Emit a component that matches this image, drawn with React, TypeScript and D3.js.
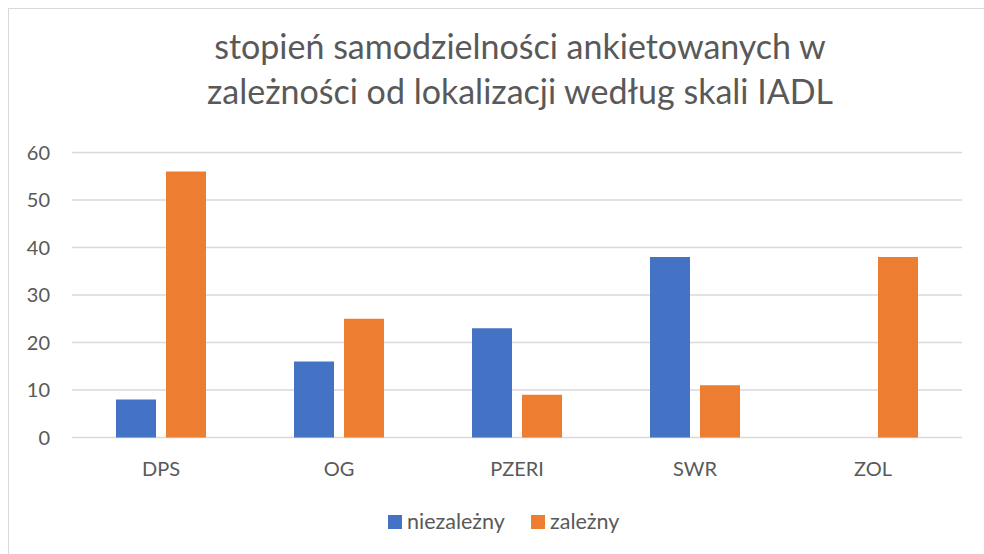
import { useEffect, useRef } from "react";
import * as d3 from "d3";

const categories = ["DPS", "OG", "PZERI", "SWR", "ZOL"];
const seriesNames = ["niezależny", "zależny"];
const niezalezny = [8, 16, 23, 38, 0];
const zalezny = [56, 25, 9, 11, 38];
const yTicks = [0, 10, 20, 30, 40, 50, 60];
const titleLines = [
  "stopień samodzielności ankietowanych w",
  "zależności od lokalizacji według skali IADL",
];

const colors = ["#4472C4", "#ED7D31"];
const textColor = "#595959";
const gridColor = "#D9D9D9";
const font = "Lato, 'Open Sans', sans-serif";

export default function App() {
  const svgRef = useRef<SVGSVGElement>(null);

  useEffect(() => {
    if (!svgRef.current) return;
    const svg = d3.select(svgRef.current);
    svg.selectAll("*").remove();

    const width = 976;
    const height = 546;
    svg.attr("width", width).attr("height", height);

    // work in page coordinates (svg sits at 8,8)
    const g = svg.append("g").attr("transform", "translate(-8,-8)");

    // chart frame (right and bottom edges fall outside the window)
    g.append("rect")
      .attr("x", 8.5)
      .attr("y", 8.5)
      .attr("width", 1100)
      .attr("height", 1100)
      .attr("fill", "#FFFFFF")
      .attr("stroke", gridColor)
      .attr("stroke-width", 1);

    const plot = { left: 72, right: 962, top: 152.5, bottom: 437.5 };

    const x0 = d3
      .scaleBand()
      .domain(categories)
      .range([plot.left, plot.right]);

    const barW = 40;
    const gap = 10;
    const x1 = d3
      .scaleOrdinal<string, number>()
      .domain(seriesNames)
      .range([-(barW + gap / 2), gap / 2]);

    const y = d3.scaleLinear().domain([0, 60]).range([plot.bottom, plot.top]);

    // Grid lines
    g.append("g")
      .selectAll("line")
      .data(yTicks)
      .enter()
      .append("line")
      .attr("x1", plot.left)
      .attr("x2", plot.right)
      .attr("y1", (d) => y(d))
      .attr("y2", (d) => y(d))
      .attr("stroke", gridColor)
      .attr("stroke-width", 1.3);

    // Y tick labels
    g.append("g")
      .selectAll("text")
      .data(yTicks)
      .enter()
      .append("text")
      .attr("x", 50)
      .attr("y", (d) => y(d))
      .attr("dy", "0.35em")
      .attr("text-anchor", "end")
      .attr("fill", textColor)
      .attr("font-family", font)
      .attr("font-size", "20px")
      .text((d) => d);

    // Bars
    const series = [niezalezny, zalezny];
    series.forEach((values, si) => {
      g.append("g")
        .selectAll("rect")
        .data(categories)
        .enter()
        .append("rect")
        .attr(
          "x",
          (d) => x0(d)! + x0.bandwidth() / 2 + x1(seriesNames[si])
        )
        .attr("y", (d, i) => y(values[i]))
        .attr("width", barW)
        .attr("height", (d, i) => y(0) - y(values[i]))
        .attr("fill", colors[si]);
    });

    // X labels
    g.append("g")
      .selectAll("text")
      .data(categories)
      .enter()
      .append("text")
      .attr("x", (d) => x0(d)! + x0.bandwidth() / 2)
      .attr("y", 476)
      .attr("text-anchor", "middle")
      .attr("fill", textColor)
      .attr("font-family", font)
      .attr("font-size", "20px")
      .text((d) => d);

    // Title
    g.append("g")
      .selectAll("text")
      .data(titleLines)
      .enter()
      .append("text")
      .attr("x", 520)
      .attr("y", (d, i) => 59 + i * 45)
      .attr("text-anchor", "middle")
      .attr("fill", textColor)
      .attr("font-family", font)
      .attr("font-size", "34px")
      .text((d) => d);

    // Legend
    const legendX = [388, 531];
    const legend = g
      .append("g")
      .selectAll("g")
      .data(seriesNames)
      .enter()
      .append("g")
      .attr("transform", (d, i) => `translate(${legendX[i]},515)`);
    legend
      .append("rect")
      .attr("width", 14)
      .attr("height", 14)
      .attr("fill", (d, i) => colors[i]);
    legend
      .append("text")
      .attr("x", 19)
      .attr("y", 14)
      .attr("fill", textColor)
      .attr("font-family", font)
      .attr("font-size", "21.5px")
      .text((d) => d);
  }, []);

  return (
    <svg
      ref={svgRef}
      style={{ display: "block", position: "fixed", left: 8, top: 8 }}
    ></svg>
  );
}
